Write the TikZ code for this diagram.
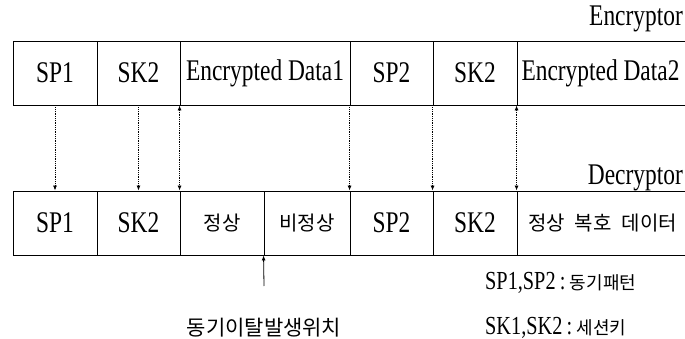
\documentclass[tikz,border=0pt]{standalone}
\usepackage{fontspec}
\setmainfont[FakeStretch=0.78]{Liberation Serif}
\newfontfamily\kr{Noto Sans CJK KR}
\usetikzlibrary{arrows.meta}
\begin{document}
\begin{tikzpicture}[x=1pt,y=-1pt,
  cell/.style={draw,line width=0.9pt,rectangle,inner sep=0pt,minimum height=64pt,font=\fontsize{30}{32}\selectfont},
  krcell/.style={cell,font=\kr\fontsize{20}{22}\selectfont},
  lbl/.style={inner sep=0pt,font=\fontsize{30}{32}\selectfont},
  leg/.style={inner sep=0pt,font=\fontsize{26}{28}\selectfont},
  link/.style={densely dotted,line width=0.8pt,-{Latex[length=5pt,width=4pt]}},
  blink/.style={densely dotted,line width=0.8pt,{Latex[length=5pt,width=4pt]}-{Latex[length=5pt,width=4pt]}},
]
\useasboundingbox[fill=white] (0,0) rectangle (685,339);
% top row (Encryptor)
\node[cell,minimum width=84pt] (t1) at (55,73) {SP1};
\node[cell,minimum width=83pt] (t2) at (138.5,73) {SK2};
\node[cell,minimum width=170pt] (t3) at (265,73) {Encrypted Data1};
\node[cell,minimum width=83pt] (t4) at (391.5,73) {SP2};
\node[cell,minimum width=84pt] (t5) at (475,73) {SK2};
\node[cell,minimum width=171pt] (t6) at (602.5,73) {\hspace*{-2pt}Encrypted Data2\hspace*{2pt}};
% bottom row (Decryptor)
\node[cell,minimum width=84pt] (b1) at (55,223) {SP1};
\node[cell,minimum width=83pt] (b2) at (138.5,223) {SK2};
\node[krcell,minimum width=84pt] (b3) at (222,223) {정상};
\node[krcell,minimum width=86pt] (b4) at (307,223) {비정상};
\node[cell,minimum width=83pt] (b5) at (391.5,223) {SP2};
\node[cell,minimum width=84pt] (b6) at (475,223) {SK2};
\node[krcell,minimum width=171pt] (b7) at (602.5,223) {정상\hspace{10pt}복호\hspace{10pt}데이터};
% row labels
\node[lbl,anchor=east] (enc) at (683,19) {Encryptor};
\node[lbl,anchor=east] (dec) at (683,178) {Decryptor};
% dotted connectors
\draw[link] (t1.south) -- (b1.north);
\draw[link] (t2.south) -- (b2.north);
\draw[blink] (t3.south west) -- (b3.north west);
\draw[link] (t4.south west) -- (b5.north west);
\draw[link] (t5.south west) -- (b6.north west);
\draw[blink] (t6.south west) -- (b7.north west);
% sync loss marker
\coordinate (lossend) at (264,286);
\draw[line width=0.8pt,-{Latex[length=5pt,width=4pt]}] (lossend) -- (b4.south west);
% legends
\node[leg,anchor=west] (leg1) at (485,283) {SP1,SP2\,:\,{\kr\fontsize{18}{20}\selectfont 동기패턴}};
\node[inner sep=0pt,font=\kr\fontsize{21}{23}\selectfont] (loss) at (264,328) {동기이탈발생위치};
\node[leg,anchor=west] (leg2) at (485,328) {SK1,SK2\,:\,{\kr\fontsize{18}{20}\selectfont 세션키}};
\end{tikzpicture}
\end{document}
